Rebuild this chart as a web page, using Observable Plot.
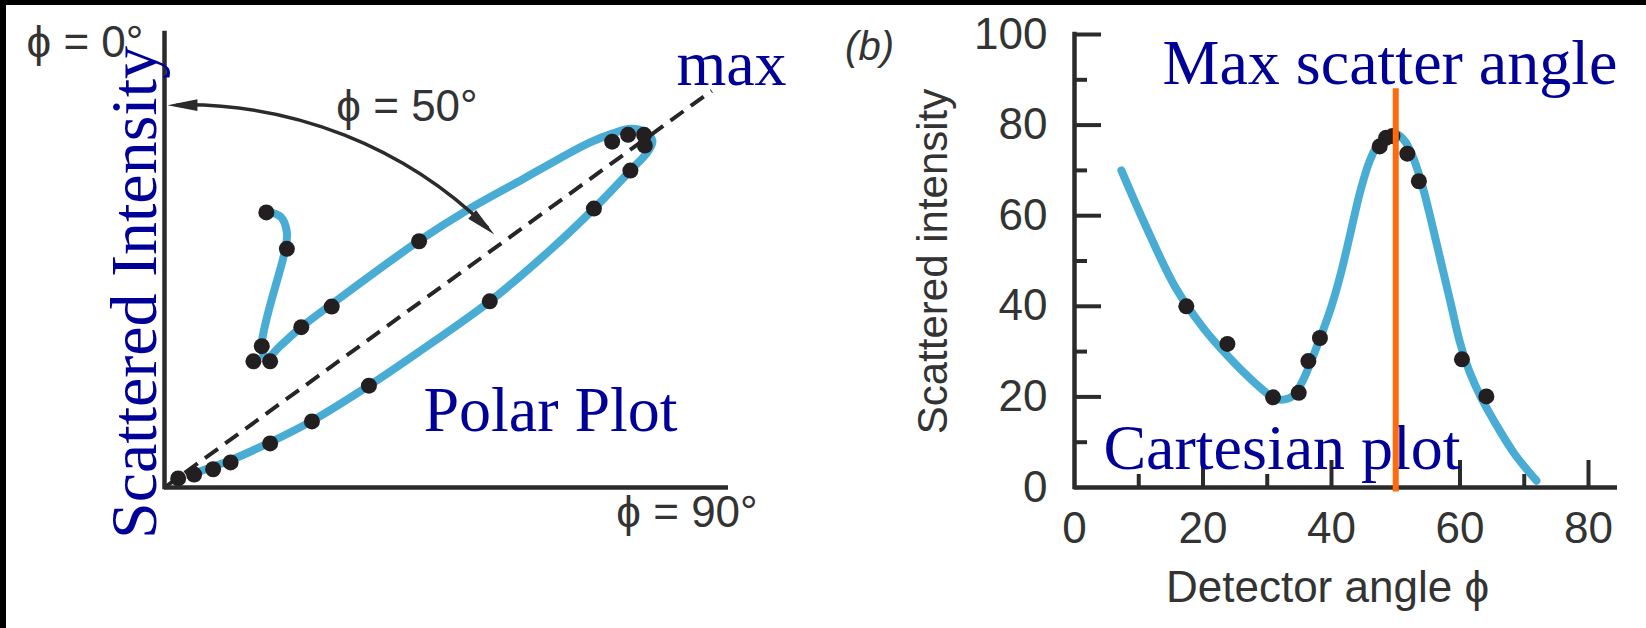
<!DOCTYPE html>
<html>
<head>
<meta charset="utf-8">
<script src="https://cdn.jsdelivr.net/npm/d3@7"></script>
<script src="https://cdn.jsdelivr.net/npm/@observablehq/plot@0.6"></script>
<style>
html, body { margin: 0; padding: 0; background: #fff; }
#page { position: relative; width: 1646px; height: 628px; overflow: hidden; background: #fff; }
#left { position: absolute; left: 0; top: 0; }
#right { position: absolute; left: 820px; top: 0; }
.band { position: absolute; background: #000; z-index: 5; }
</style>
</head>
<body>
<div id="page">
  <div id="left"></div>
  <div id="right"></div>
  <div class="band" style="left:0;top:0;width:1646px;height:5px"></div>
  <div class="band" style="left:0;top:0;width:6px;height:628px"></div>
</div>
<script>
// ---------- Panel (a): polar plot (x = I·sinφ, y = I·cosφ, intensity units) ----------
const polarPointX = [13.4, 16.1, 12.8, 11.7, 13.9, 18.0, 22.0, 33.5, 58.9, 61.0, 63.1, 63.2, 61.3, 56.5, 42.8, 26.9, 19.4, 13.9, 8.7, 6.4, 3.9, 1.8];
const polarPointY = [36.2, 31.4, 18.6, 16.6, 16.6, 21.1, 23.8, 32.4, 45.5, 46.4, 46.4, 45.0, 41.7, 36.7, 24.5, 13.4, 8.7, 5.8, 3.3, 2.4, 1.7, 1.2];
const polarCurveX = [13.3, 15.3, 16.1, 15.9, 12.8, 13.4, 15.3, 18.0, 22.1, 33.4, 40.0, 47.2, 52.0, 56.0, 59.0, 61.3, 63.2, 64.2, 63.6, 61.3, 56.5, 50.7, 42.8, 33.4, 26.9, 19.3, 13.8, 8.7, 3.4];
const polarCurveY = [36.4, 35.6, 33.6, 31.4, 18.6, 17.0, 18.7, 21.1, 24.2, 32.4, 36.6, 40.6, 43.3, 45.4, 46.6, 47.2, 46.8, 45.6, 44.2, 41.7, 36.7, 31.2, 24.5, 17.8, 13.4, 8.7, 5.9, 3.6, 1.7];
const maxDirectionX = [0, 72.0];
const maxDirectionY = [0, 52.2];
const arcEndX = [0.4, 43.4];     // φ = 0° end, φ = 50° end
const arcEndY = [50.3, 33.3];
const arcHeadAngle = [-90, 132];
const polarLabels = ["ϕ = 0°", "ϕ = 50°", "ϕ = 90°", "max", "Polar Plot", "Scattered Intensity"];

// ---------- Panel (b): Cartesian plot ----------
const detectorAngle = [17.4, 23.8, 30.9, 34.9, 36.4, 38.2, 47.5, 48.5, 49.5, 51.8, 53.6, 60.3, 64.1];
const scatteredIntensity = [40.0, 31.7, 19.9, 20.9, 27.9, 33.0, 75.3, 77.2, 77.6, 73.7, 67.6, 28.3, 20.1];
const fitAngle = [7.3, 11.0, 15.7, 20.0, 24.0, 28.0, 31.0, 32.5, 34.0, 35.5, 37.0, 38.5, 40.0, 41.5, 43.0, 44.5, 46.0, 47.5, 49.0, 50.2, 51.5, 52.8, 54.2, 55.5, 57.0, 58.5, 60.0, 61.5, 63.3, 65.5, 68.5, 71.9];
const fitIntensity = [70.0, 58.0, 44.2, 35.3, 28.8, 23.2, 19.8, 19.4, 20.2, 23.5, 28.5, 34.0, 40.0, 47.5, 56.5, 65.5, 72.3, 76.3, 78.0, 78.0, 76.3, 72.5, 66.3, 59.0, 50.0, 41.0, 32.0, 25.5, 19.8, 14.2, 7.4, 1.5];
const maxScatterAngle = [50];
const xTickLabels = [0, 20, 40, 60, 80];
const xMajorTicks = [20, 40, 60, 80];
const xMinorTicks = [10, 30, 50, 70];
const yTickLabels = [0, 20, 40, 60, 80, 100];
const yMajorTicks = [20, 40, 60, 80, 100];
const yMinorTicks = [10, 30, 50, 70, 90];
const cartesianLabels = ["(b)", "Scattered intensity", "Detector angle ϕ", "Max scatter angle", "Cartesian plot"];

// ---------- styles ----------
const BLUE_LINE = "#49acd4";
const DOT = "#231f20";
const INK = "#2b2b2b";
const GRAY_TEXT = "#333333";
const NAVY = "#000099";
const SANS = "'Liberation Sans', Arial, Helvetica, sans-serif";
const SERIF = "'Liberation Serif', 'Times New Roman', serif";

const polarPoints = polarPointX.map((x, i) => ({x, y: polarPointY[i]}));
const polarCurve = polarCurveX.map((x, i) => ({x, y: polarCurveY[i]}));
const maxDirection = maxDirectionX.map((x, i) => ({x, y: maxDirectionY[i]}));
const arc = [{x1: arcEndX[0], y1: arcEndY[0], x2: arcEndX[1], y2: arcEndY[1]}];
const arcHeads = arcEndX.map((x, i) => ({x, y: arcEndY[i], a: arcHeadAngle[i]}));

const points = detectorAngle.map((x, i) => ({x, y: scatteredIntensity[i]}));
const fit = fitAngle.map((x, i) => ({x, y: fitIntensity[i]}));

const arrowHead = {
  draw(context, size) {
    const r = Math.sqrt(size / Math.PI);
    context.moveTo(0, 0);
    context.lineTo(-0.45 * r, 2.3 * r);
    context.lineTo(0.45 * r, 2.3 * r);
    context.closePath();
  }
};

function note(text, opts) {
  return Plot.text([text], {text: d => d, frameAnchor: "top-left", lineAnchor: "bottom", textAnchor: "middle", ...opts});
}

// ---------- left plot ----------
const left = Plot.plot({
  width: 820, height: 628,
  marginLeft: 164, marginRight: 92, marginTop: 33, marginBottom: 141,
  x: {domain: [0, 564 / 7.6], axis: null},
  y: {domain: [0, 454 / 7.6], axis: null},
  style: {background: "transparent", overflow: "visible", fontFamily: SANS, color: GRAY_TEXT},
  marks: [
    Plot.line(polarCurve, {x: "x", y: "y", curve: "catmull-rom", stroke: BLUE_LINE, strokeWidth: 8}),
    Plot.line(maxDirection, {x: "x", y: "y", stroke: "#262626", strokeWidth: 4, strokeDasharray: "16,9", strokeLinecap: "butt"}),
    Plot.dot(polarPoints, {x: "x", y: "y", r: 8, fill: DOT}),
    Plot.ruleX([0], {stroke: INK, strokeWidth: 4.5, strokeLinecap: "square"}),
    Plot.ruleY([0], {stroke: INK, strokeWidth: 4.5}),
    Plot.arrow(arc, {x1: "x1", y1: "y1", x2: "x2", y2: "y2", bend: 24, headLength: 0, stroke: INK, strokeWidth: 3.5, insetStart: 10, insetEnd: 10}),
    Plot.dot(arcHeads, {x: "x", y: "y", rotate: "a", symbol: arrowHead, r: 13, fill: INK, stroke: "none"}),
    note(polarLabels[0], {dx: -79.5, dy: 23, fontSize: 44, fill: GRAY_TEXT}),
    note(polarLabels[1], {dx: 242.5, dy: 87, fontSize: 44, fill: GRAY_TEXT}),
    note(polarLabels[2], {dx: 522.5, dy: 493, fontSize: 44, fill: GRAY_TEXT}),
    note(polarLabels[3], {dx: 567, dy: 51, fontSize: 64, fontFamily: SERIF, fill: NAVY}),
    note(polarLabels[4], {dx: 386, dy: 397, fontSize: 64, fontFamily: SERIF, fill: NAVY}),
    note(polarLabels[5], {dx: -9, dy: 259, rotate: -90, fontSize: 66, fontFamily: SERIF, fill: NAVY})
  ]
});
document.getElementById("left").append(left);

// ---------- right plot ----------
const FRAME_W = 826 - 254 - 29;
const FRAME_H = 628 - 34 - 141;
const right = Plot.plot({
  width: 826, height: 628,
  marginLeft: 254, marginRight: 29, marginTop: 34, marginBottom: 141,
  x: {domain: [0, 543 / 6.425]},
  y: {domain: [0, 100]},
  style: {background: "transparent", overflow: "visible", fontFamily: SANS, color: GRAY_TEXT},
  marks: [
    Plot.tickX(xMinorTicks, {x: d => d, stroke: INK, strokeWidth: 4, insetTop: FRAME_H - 13}),
    Plot.tickX(xMajorTicks, {x: d => d, stroke: INK, strokeWidth: 4, insetTop: FRAME_H - 27}),
    Plot.tickY(yMinorTicks, {y: d => d, stroke: INK, strokeWidth: 4, insetRight: FRAME_W - 13}),
    Plot.tickY(yMajorTicks, {y: d => d, stroke: INK, strokeWidth: 4, insetRight: FRAME_W - 27}),
    Plot.ruleX([0], {stroke: INK, strokeWidth: 4.5, strokeLinecap: "square"}),
    Plot.ruleY([0], {stroke: INK, strokeWidth: 4.5}),
    Plot.axisX(xTickLabels, {anchor: "bottom", tickSize: 0, tickPadding: 24, fontSize: 44, label: null}),
    Plot.axisY(yTickLabels, {anchor: "left", tickSize: 0, tickPadding: 27, fontSize: 44, label: null}),
    Plot.line(fit, {x: "x", y: "y", curve: "catmull-rom", stroke: BLUE_LINE, strokeWidth: 8}),
    Plot.dot(points, {x: "x", y: "y", r: 8, fill: DOT}),
    note(cartesianLabels[0], {dx: -205, dy: 25, fontSize: 40, fontStyle: "italic", fill: GRAY_TEXT}),
    note(cartesianLabels[1], {dx: -128, dy: 227, rotate: -90, fontSize: 42, fill: GRAY_TEXT}),
    note(cartesianLabels[2], {dx: 253, dy: 567, fontSize: 44, fill: GRAY_TEXT}),
    note(cartesianLabels[3], {dx: 315.5, dy: 49, fontSize: 64, fontFamily: SERIF, fill: NAVY}),
    note(cartesianLabels[4], {dx: 207.5, dy: 434, fontSize: 64, fontFamily: SERIF, fill: NAVY}),
    Plot.ruleX(maxScatterAngle, {x: d => d, y1: -1, y2: 88, stroke: "#ff6a0d", strokeWidth: 6})
  ]
});
document.getElementById("right").append(right);
</script>
</body>
</html>
